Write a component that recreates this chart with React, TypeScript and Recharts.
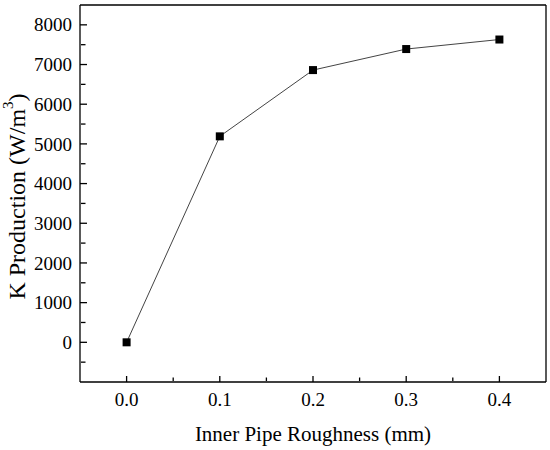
import { Line, LineChart, XAxis, YAxis } from "recharts";

const roughness = [0, 0.1, 0.2, 0.3, 0.4];
const kProduction = [0, 5190, 6860, 7390, 7630];

const xMajorTicks = [0, 0.1, 0.2, 0.3, 0.4];
const xMinorTicks = [0.05, 0.15, 0.25, 0.35];
const yMajorTicks = [0, 1000, 2000, 3000, 4000, 5000, 6000, 7000, 8000];
const yMinorTicks = [-500, 500, 1500, 2500, 3500, 4500, 5500, 6500, 7500];

const xDomain = [-0.05, 0.45];
const yDomain = [-1000, 8500];

const data = roughness.map((x, i) => ({ x, k: kProduction[i] }));

const font = "Liberation Serif";
const axisStroke = { stroke: "#000", strokeWidth: 1.3 };

function SquareDot(props: any) {
  const { cx, cy } = props;
  if (cx == null || cy == null) return null;
  return <rect x={cx - 4} y={cy - 4} width={8} height={8} fill="#000" />;
}

function NoTick() {
  return <g />;
}

function XTick(props: any) {
  const { x, y, payload } = props;
  return (
    <text x={x} y={y} dy="0.71em" textAnchor="middle" fontFamily={font} fontSize={19} fill="#000">
      {Number(payload.value).toFixed(1)}
    </text>
  );
}

function YTick(props: any) {
  const { x, y, payload } = props;
  return (
    <text x={x} y={y} dy="0.35em" textAnchor="end" fontFamily={font} fontSize={19} fill="#000">
      {payload.value}
    </text>
  );
}

function YTitle(props: any) {
  const { x, y, height } = props.viewBox;
  const cx = x + 17;
  const cy = y + height / 2 + 3;
  return (
    <text
      x={cx}
      y={cy}
      transform={`rotate(-90 ${cx} ${cy})`}
      textAnchor="middle"
      dominantBaseline="central"
      fontFamily={font}
      fontSize={24}
      fill="#000"
    >
      K Production (W/m
      <tspan dy={-9} fontSize={15}>3</tspan>
      <tspan dy={9}>)</tspan>
    </text>
  );
}

export default function App() {
  return (
    <div style={{ position: "absolute", left: 0, top: 0, background: "#fff", fontFamily: font }}>
      <LineChart
        width={550}
        height={450}
        data={data}
        margin={{ top: 4, right: 3, bottom: 0, left: 0 }}
      >
        <XAxis
          xAxisId="main"
          type="number"
          dataKey="x"
          domain={xDomain}
          ticks={xMajorTicks}
          allowDataOverflow
          tickLine={false}
          tickSize={0}
          tickMargin={11}
          height={68}
          axisLine={axisStroke}
          tick={<XTick />}
          label={{
            value: "Inner Pipe Roughness (mm)",
            position: "insideBottom",
            offset: 9,
            fill: "#000",
            fontSize: 21,
            fontFamily: font
          }}
        />
        <XAxis
          xAxisId="major"
          type="number"
          dataKey="x"
          domain={xDomain}
          ticks={xMajorTicks}
          allowDataOverflow
          mirror
          height={1}
          tick={<NoTick />}
          axisLine={false}
          tickSize={6}
          tickLine={axisStroke}
        />
        <XAxis
          xAxisId="minor"
          type="number"
          dataKey="x"
          domain={xDomain}
          ticks={xMinorTicks}
          allowDataOverflow
          mirror
          height={1}
          tick={<NoTick />}
          axisLine={false}
          tickSize={3.5}
          tickLine={axisStroke}
        />
        <XAxis
          xAxisId="top"
          orientation="top"
          type="number"
          dataKey="x"
          domain={xDomain}
          allowDataOverflow
          height={1}
          tick={false}
          tickLine={false}
          axisLine={axisStroke}
        />
        <YAxis
          yAxisId="main"
          type="number"
          domain={yDomain}
          ticks={yMajorTicks}
          allowDataOverflow
          width={80}
          tickLine={false}
          tickSize={0}
          tickMargin={8}
          axisLine={axisStroke}
          tick={<YTick />}
          label={<YTitle />}
        />
        <YAxis
          yAxisId="major"
          type="number"
          domain={yDomain}
          ticks={yMajorTicks}
          allowDataOverflow
          mirror
          width={1}
          tick={<NoTick />}
          axisLine={false}
          tickSize={7}
          tickLine={axisStroke}
        />
        <YAxis
          yAxisId="minor"
          type="number"
          domain={yDomain}
          ticks={yMinorTicks}
          allowDataOverflow
          mirror
          width={1}
          tick={<NoTick />}
          axisLine={false}
          tickSize={4.5}
          tickLine={axisStroke}
        />
        <YAxis
          yAxisId="right"
          orientation="right"
          type="number"
          domain={yDomain}
          allowDataOverflow
          width={1}
          tick={false}
          tickLine={false}
          axisLine={axisStroke}
        />
        <Line
          xAxisId="main"
          yAxisId="main"
          dataKey="k"
          type="linear"
          stroke="#444"
          strokeWidth={1}
          dot={<SquareDot />}
          activeDot={false}
          isAnimationActive={false}
        />
      </LineChart>
    </div>
  );
}
